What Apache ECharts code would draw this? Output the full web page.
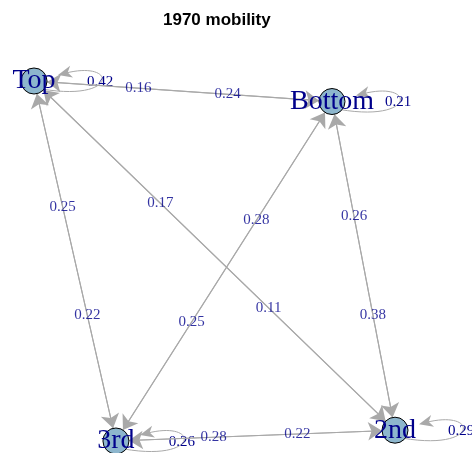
<!DOCTYPE html>
<html>
<head>
<meta charset="utf-8">
<script src="https://cdn.jsdelivr.net/npm/echarts@6/dist/echarts.min.js"></script>
<style>
  html, body { margin: 0; padding: 0; background: #fff; }
  #main { width: 472px; height: 453px; }
</style>
</head>
<body>
<div id="main"></div>
<script>
  // 节点布局坐标 (igraph 风格, -1..1)
  var nodeNames = ['Top', 'Bottom', '3rd', '2nd'];
  var nodeX = [-1, 0.651, -0.546, 1];
  var nodeY = [1, 0.886, -1, -0.94];
  // 自环权重
  var loopWeights = [0.42, 0.21, 0.26, 0.29];
  // 有向边
  var edgeFrom = ['Top', 'Bottom', 'Top', '3rd', 'Top', '2nd', 'Bottom', '3rd', 'Bottom', '2nd', '3rd', '2nd'];
  var edgeTo = ['Bottom', 'Top', '3rd', 'Top', '2nd', 'Top', '3rd', 'Bottom', '2nd', 'Bottom', '2nd', '3rd'];
  var edgeWeights = [0.16, 0.24, 0.25, 0.22, 0.17, 0.11, 0.28, 0.25, 0.26, 0.38, 0.28, 0.22];

  var labelPos = 0.35; // 边标签位置 (从起点算)
  var edgeColor = '#A9A9A9';
  var labelColor = '#00008B';

  var nodes = nodeNames.map(function (n, i) {
    return { name: n, value: [nodeX[i], nodeY[i]] };
  });
  var links = edgeFrom.map(function (s, i) {
    return { source: s, target: edgeTo[i] };
  });
  // 边标签的位置由节点坐标插值得到
  var edgeLabels = edgeFrom.map(function (s, i) {
    var a = nodeNames.indexOf(s), b = nodeNames.indexOf(edgeTo[i]);
    return [
      nodeX[a] + (nodeX[b] - nodeX[a]) * labelPos,
      nodeY[a] + (nodeY[b] - nodeY[a]) * labelPos,
      edgeWeights[i]
    ];
  });
  var loops = nodeNames.map(function (n, i) {
    return [nodeX[i], nodeY[i], loopWeights[i]];
  });

  // 自环: 向右的水滴形曲线 + 箭头
  function renderLoop(params, api) {
    var c = api.coord([api.value(0), api.value(1)]);
    var cx = c[0], cy = c[1];
    var p0 = [cx + 8, cy + 8], p1 = [cx + 84, cy + 21], p2 = [cx + 84, cy - 21], p3 = [cx + 24, cy - 6];
    var dx = p3[0] - p2[0], dy = p3[1] - p2[1];
    var len = Math.sqrt(dx * dx + dy * dy);
    var ux = dx / len, uy = dy / len, nx = -uy, ny = ux;
    var arrow = [
      [p3[0], p3[1]],
      [p3[0] - 14 * ux + 6 * nx, p3[1] - 14 * uy + 6 * ny],
      [p3[0] - 10 * ux, p3[1] - 10 * uy],
      [p3[0] - 14 * ux - 6 * nx, p3[1] - 14 * uy - 6 * ny]
    ];
    return {
      type: 'group',
      children: [
        {
          type: 'bezierCurve',
          shape: { x1: p0[0], y1: p0[1], cpx1: p1[0], cpy1: p1[1], cpx2: p2[0], cpy2: p2[1], x2: p3[0] - 8 * ux, y2: p3[1] - 8 * uy },
          style: { stroke: edgeColor, fill: null, lineWidth: 1 }
        },
        {
          type: 'polygon',
          shape: { points: arrow },
          style: { fill: edgeColor }
        },
        {
          type: 'text',
          style: {
            text: api.value(2).toFixed(2),
            x: cx + 66, y: cy + 1,
            fill: labelColor,
            font: '15px "Liberation Serif"',
            align: 'center', verticalAlign: 'middle'
          },
          z2: 10
        }
      ]
    };
  }

  var chart = echarts.init(document.getElementById('main'));
  var option = {
    animation: false,
    title: {
      text: '1970 mobility',
      left: 158,
      top: 7,
      textStyle: { fontSize: 17, fontWeight: 'bold', color: '#000', fontFamily: 'Liberation Sans' }
    },
    grid: { left: 34, right: 77, top: 81, bottom: 12 },
    xAxis: { type: 'value', min: -1, max: 1, show: false },
    yAxis: { type: 'value', min: -1, max: 1, show: false },
    series: [
      {
        type: 'custom',
        z: 1,
        clip: false,
        renderItem: renderLoop,
        data: loops
      },
      {
        type: 'graph',
        coordinateSystem: 'cartesian2d',
        z: 2,
        symbol: 'circle',
        symbolSize: 26,
        itemStyle: { color: '#8DB6CD', borderColor: '#000', borderWidth: 1 },
        label: {
          show: true,
          position: 'inside',
          color: labelColor,
          fontFamily: 'Liberation Serif',
          fontSize: 28
        },
        edgeSymbol: ['none', 'arrow'],
        edgeSymbolSize: 14,
        lineStyle: { color: edgeColor, width: 1.1, opacity: 1, curveness: 0 },
        data: nodes,
        links: links
      },
      {
        type: 'scatter',
        z: 3,
        clip: false,
        symbolSize: 0,
        label: {
          show: true,
          position: 'inside',
          color: labelColor,
          fontFamily: 'Liberation Serif',
          fontSize: 15,
          formatter: function (p) { return p.value[2].toFixed(2); }
        },
        data: edgeLabels
      }
    ]
  };
  chart.setOption(option);
</script>
</body>
</html>
